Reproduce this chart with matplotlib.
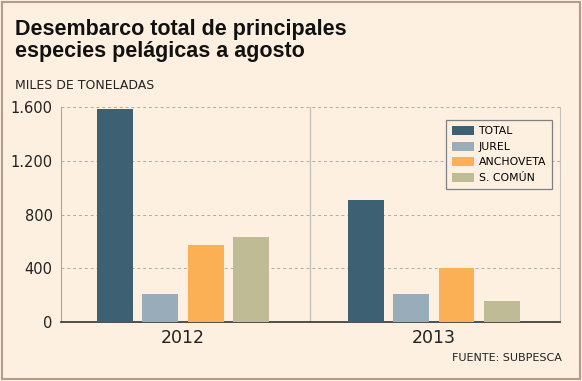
import numpy as np
import matplotlib.pyplot as plt
from matplotlib.patches import Rectangle

# data
years = ['2012', '2013']
species = ['TOTAL', 'JUREL', 'ANCHOVETA', 'S. COMÚN']
values = {
    'TOTAL': [1585, 908],
    'JUREL': [208, 208],
    'ANCHOVETA': [573, 402],
    'S. COMÚN': [632, 156],
}
colors = ['#3d6173', '#98adb9', '#fcb055', '#bfbb94']
yticks = [0, 400, 800, 1200, 1600]
ytick_labels = ['0', '400', '800', '1.200', '1.600']

bg = '#fdf0e0'
plt.rcParams['font.family'] = ['DejaVu Sans']

fig = plt.figure(figsize=(5.82, 3.81), dpi=100, facecolor=bg)
ax = fig.add_axes([0.1048, 0.155, 0.857, 0.564])
ax.set_facecolor(bg)

centers = np.array([0.489, 1.495])
width = 0.144
step = 0.182
for i, sp in enumerate(species):
    ax.bar(centers + (i - 1.5) * step, values[sp], width, color=colors[i],
           label=sp, zorder=3)

ax.set_xlim(0, 2)
ax.set_ylim(0, 1600)
ax.set_yticks(yticks)
ax.set_yticklabels(ytick_labels, fontsize=10.5, color='#222222')
ax.set_xticks(centers)
ax.set_xticklabels(years, fontsize=12.5, color='#222222')
ax.tick_params(length=0, pad=6)
ax.tick_params(axis='x', pad=5)
ax.yaxis.grid(True, linestyle=(0, (3, 3)), color='#aaaaaa', linewidth=0.7)
ax.axvline(1.0, color='#c8c0b4', linewidth=1, zorder=2)
ax.spines['top'].set_visible(False)
ax.spines['left'].set_color('#aaa49c')
ax.spines['right'].set_color('#c8c0b4')
ax.spines['bottom'].set_color('#333333')
ax.spines['bottom'].set_linewidth(1.2)

leg = ax.legend(loc='upper left', bbox_to_anchor=(0.772, 0.94), fontsize=7.8,
                frameon=True, fancybox=False, edgecolor='#808080',
                facecolor=bg, handlelength=2.0, handleheight=0.9,
                handletextpad=0.45, labelspacing=0.5, borderpad=0.55,
                borderaxespad=0)
leg.get_frame().set_linewidth(0.9)
leg.get_frame().set_alpha(1)

fig.text(0.026, 0.893, 'Desembarco total de principales\nespecies pelágicas a agosto',
         fontsize=15.5, fontweight='bold', va='center', ha='left',
         linespacing=1.08, color='#111111',
         family=['Liberation Sans', 'DejaVu Sans'])
fig.text(0.026, 0.775, 'MILES DE TONELADAS', fontsize=9, va='center',
         ha='left', color='#222222')
fig.text(0.965, 0.06, 'FUENTE: SUBPESCA', fontsize=8, va='center',
         ha='right', color='#222222')

fig.patches.append(Rectangle((0.003, 0.005), 0.994, 0.99, transform=fig.transFigure,
                             fill=False, edgecolor='#b49c8c', linewidth=1.5))

fig.savefig('out.png', dpi=100, facecolor=bg)
